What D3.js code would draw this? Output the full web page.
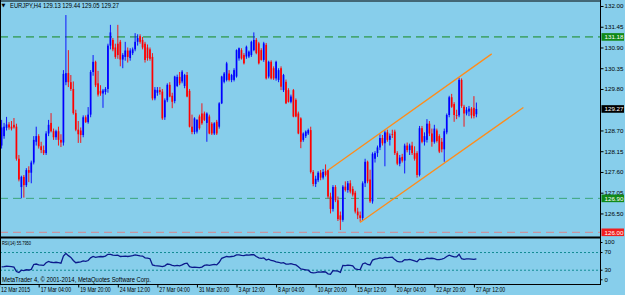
<!DOCTYPE html>
<html><head><meta charset="utf-8">
<script src="https://cdn.jsdelivr.net/npm/d3@7"></script>
<style>
html,body{margin:0;padding:0;background:#87CEEB;}
svg{display:block;}
</style></head><body>
<svg id="c" width="625" height="295"></svg>
<script>
// ---------- DATA ----------
const symbol = "EURJPY,H4";
const open = [
128.30,128.55,128.77,128.86,128.80,128.85,128.80,127.95,127.20,127.47,
127.25,127.65,127.58,127.85,128.40,128.55,128.28,128.18,128.10,128.62,
128.90,128.68,128.52,128.68,128.45,128.38,129.98,130.22,129.98,129.80,
129.16,128.72,128.70,128.58,129.05,128.92,129.12,130.25,130.52,129.95,
129.75,129.68,129.72,129.80,130.95,131.10,130.90,131.00,131.05,130.58,
130.65,130.82,130.62,130.75,130.85,131.05,131.20,131.10,131.00,130.90,
130.85,130.65,129.55,129.70,129.77,129.73,129.05,129.50,129.91,129.62,
129.48,129.88,130.12,130.00,129.88,130.17,129.75,128.80,128.66,128.67,
129.07,129.15,129.15,128.90,129.07,128.88,128.62,128.93,128.80,129.42,
129.99,130.04,130.21,130.04,130.04,130.13,130.61,130.83,130.70,130.66,
130.66,130.70,130.83,131.10,131.01,130.83,130.57,130.97,130.13,130.52,
130.35,130.08,130.04,130.35,129.77,129.99,129.77,129.46,129.77,129.51,
129.15,129.02,128.45,128.55,128.62,128.71,127.60,127.28,127.38,127.58,
127.45,127.62,127.65,126.95,126.62,127.20,126.85,126.45,126.33,127.21,
127.12,127.30,127.15,127.05,126.55,126.45,126.38,127.30,127.87,127.40,
126.82,127.95,128.10,128.25,128.50,128.36,128.65,128.45,128.60,128.67,
128.10,127.82,128.00,127.90,128.30,128.18,128.30,128.10,128.10,127.52,
128.76,128.40,128.45,128.88,128.62,128.40,128.70,128.55,128.40,128.20,
128.65,129.11,129.58,129.40,129.11,129.10,130.04,129.33,129.15,129.20,
129.28,129.30,129.13];
const high = [
128.98,128.90,129.06,128.92,128.95,129.03,128.88,128.05,127.50,127.52,
127.70,127.75,127.90,128.55,128.80,128.60,128.40,128.30,128.68,128.98,
129.16,128.75,128.72,128.80,128.60,130.30,131.76,130.83,130.17,130.00,
129.25,128.95,128.78,129.10,129.10,129.32,130.30,130.70,130.55,130.28,
129.90,129.80,129.85,131.00,131.50,131.15,131.00,131.50,131.10,130.75,
131.05,130.90,130.88,130.90,131.28,131.25,131.25,131.18,131.05,130.98,
130.90,130.75,129.85,129.85,129.85,129.80,129.55,129.95,129.98,129.70,
130.15,130.18,130.25,130.30,130.20,130.25,129.80,129.12,129.05,129.00,
129.12,129.42,129.20,129.18,129.12,128.92,128.92,128.98,129.45,130.15,
130.25,130.52,130.30,130.20,130.35,130.85,130.90,130.88,130.75,130.95,
130.82,131.08,131.30,131.15,131.05,130.88,131.05,131.02,130.55,130.56,
130.40,130.55,130.35,130.40,130.20,130.05,129.82,129.65,129.80,129.55,
129.20,129.05,128.65,128.70,128.75,128.80,127.65,127.50,127.62,127.65,
127.68,127.80,127.66,127.05,127.25,127.25,126.95,126.55,127.25,127.35,
127.36,127.38,127.22,127.10,126.65,126.55,127.35,127.95,127.90,127.66,
128.12,128.15,128.30,128.60,128.58,128.70,128.72,128.62,128.72,128.72,
128.15,128.05,128.08,128.35,128.38,128.35,128.40,128.28,128.15,128.82,
128.82,128.65,129.00,128.95,128.75,128.85,128.75,128.60,128.50,128.75,
129.15,129.62,129.67,129.45,129.25,130.10,130.08,129.38,129.32,129.35,
129.32,129.61,129.44];
const low = [
128.22,128.48,128.70,128.72,128.70,128.75,127.90,127.35,126.90,126.92,
127.20,127.33,127.30,127.80,128.30,128.22,128.10,128.05,128.05,128.55,
128.65,128.45,128.45,128.30,128.26,128.30,129.90,129.85,129.75,129.12,
128.68,128.37,128.37,128.52,128.90,128.88,129.05,130.15,129.85,129.60,
129.62,129.30,129.65,129.70,130.85,130.80,130.60,130.60,130.40,130.35,
130.55,130.50,130.55,130.70,130.80,130.95,131.00,130.85,130.50,130.55,
130.55,129.50,129.50,129.62,129.65,128.98,128.98,129.45,129.58,129.29,
129.42,129.85,129.90,129.95,129.82,129.58,128.78,128.60,128.60,128.62,
128.72,128.85,128.95,128.40,128.60,128.58,128.58,128.58,128.75,129.40,
129.95,130.00,130.00,129.98,130.00,130.10,130.55,130.58,130.45,130.60,
130.62,130.65,130.80,130.72,130.45,130.55,130.52,130.05,130.08,130.05,
130.04,130.02,129.98,129.77,129.72,129.40,129.44,129.42,129.05,129.05,
128.60,128.23,128.40,128.50,128.58,127.56,127.22,127.20,127.33,127.38,
127.40,127.48,126.90,126.50,126.55,126.80,126.30,126.06,126.28,127.08,
127.05,127.03,126.95,126.50,126.35,126.28,126.32,127.20,127.30,126.78,
126.76,127.85,128.00,128.18,128.30,127.75,128.40,128.30,128.50,128.05,
127.78,127.75,127.85,127.56,128.12,128.05,128.05,127.90,127.45,127.48,
128.36,128.30,128.38,128.55,128.27,128.35,128.38,128.10,128.12,127.87,
128.60,129.05,129.30,128.93,129.00,129.05,129.30,128.80,129.10,129.08,
129.02,129.02,129.05];
const close = [
128.78,128.80,128.86,128.78,128.75,128.78,127.95,127.40,127.47,127.25,
127.65,127.58,127.85,128.45,128.55,128.28,128.18,128.10,128.62,128.85,
128.68,128.52,128.68,128.45,128.38,130.20,130.22,129.98,129.80,129.16,
128.72,128.60,128.58,129.05,128.92,129.12,130.25,130.52,129.90,129.65,
129.68,129.76,129.80,130.95,131.30,130.85,130.65,130.70,130.58,130.70,
130.82,130.65,130.82,130.85,131.05,131.15,131.05,130.90,130.57,130.62,
130.60,129.55,129.78,129.77,129.72,129.02,129.50,129.91,129.60,129.46,
130.13,130.12,129.95,130.26,130.17,129.60,128.80,128.66,129.02,128.98,
128.76,128.89,128.98,129.15,128.62,128.62,128.89,128.62,129.42,130.13,
130.21,130.48,130.04,130.17,130.30,130.83,130.88,130.61,130.48,130.92,
130.79,131.05,131.10,130.75,130.48,130.57,131.01,130.08,130.52,130.08,
130.08,130.52,130.30,129.86,130.17,129.42,129.46,129.60,129.07,129.07,
128.62,128.40,128.62,128.67,128.71,127.60,127.28,127.42,127.58,127.45,
127.60,127.52,126.95,126.62,127.20,126.85,126.35,126.33,127.21,127.12,
127.30,127.08,127.00,126.55,126.45,126.38,127.30,127.87,127.35,126.82,
128.08,128.10,128.25,128.50,128.36,128.65,128.45,128.56,128.58,128.10,
127.82,127.98,127.90,128.30,128.18,128.30,128.10,127.95,127.52,128.76,
128.40,128.55,128.88,128.62,128.40,128.75,128.42,128.14,128.20,128.68,
129.11,129.58,129.33,129.11,129.10,130.04,129.35,129.15,129.25,129.28,
129.10,129.08,129.27];
const rsi = [
37.5,38,39,38.5,38,37,27,25,30,29,
31,30.5,32,43,44,42,41.5,41,47,50,
48,47,48,47,46,62,68,63,59,52,
47,48,49,51,50,52,58,61,59,60,
61,60.5,62,66,66,64,63.5,64,61,61.5,
62,61,62,63,64.5,63.5,62.5,62,58,57.5,
56,42,40.5,40,39.5,38,40,44,43,41,
40,41,40,42,45,46,38,36.5,37,36.5,
36,37,41,42,41,42,43,42,48,57,
59,61,60,61,62,64.5,64.5,63.5,63,64.5,
64,65,65,61,58,57,58,53,55,52,
51,49,48,46,47,44,44,45,43,42,
38,33,32,31,30,25,24,24.5,26,25.5,
26.5,26,22,21,29,28.5,28,25,41,40.5,
41.5,41,40,33,32,31.5,44,46.5,43,42,
53,55,56,58,57,59,58.5,59,59.5,54,
50,49,49.5,54,53.5,54.5,53,51,49,55,
54,54.5,57,56.5,57,56,54,54,55,57,
61,64,62,60,60,66,56,54.5,55.5,55.5,
55,54.5,55.795];
const timeTickIndex = [0,16,32,48,64,80,96,112,128,144,160,176,192];
const timeTickLabels = ["12 Mar 2015","17 Mar 04:00","19 Mar 20:00","24 Mar 12:00","27 Mar 04:00",
  "31 Mar 20:00","3 Apr 12:00","8 Apr 04:00","10 Apr 20:00","15 Apr 12:00","20 Apr 04:00",
  "22 Apr 20:00","27 Apr 12:00"];
const priceTicks = [132.00,131.45,130.90,130.35,129.80,128.70,128.15,127.60,127.05,126.50];
const levelPrices = [131.18,126.90,126.00];
const lastPrice = 129.27;
const rsiLevels = [70,30];
const rsiTicks = [100,70,30,0];
const channelUpperIdx = [132.1,198.2], channelUpperPrice = [127.65,130.73];
const channelLowerIdx = [144.9,211.0], channelLowerPrice = [126.26,129.31];

// ---------- DRAW ----------
const svg = d3.select("#c");
const FONT = "'Liberation Sans', Arial, sans-serif";
const axisX = 600.5;
const x = d3.scaleLinear().domain([0,192]).range([1.6,476.4]);
const y = d3.scaleLinear().domain([126,132]).range([232.3,6]);
const yr = d3.scaleLinear().domain([0,100]).range([283.5,239.25]);

function squeeze(sel,k){ sel.each(function(){ const L=this.getComputedTextLength(); d3.select(this).attr("textLength",L*k).attr("lengthAdjust","spacingAndGlyphs"); }); }
function fitW(sel,w){ sel.attr("textLength",w).attr("lengthAdjust","spacingAndGlyphs"); }

svg.append("rect").attr("width",625).attr("height",295).attr("fill","#87CEEB");

const defs = svg.append("defs");
defs.append("clipPath").attr("id","main").append("rect").attr("x",1).attr("y",1.5).attr("width",599).attr("height",235);
defs.append("clipPath").attr("id","sub").append("rect").attr("x",1).attr("y",239).attr("width",599).attr("height",45);

const gm = svg.append("g").attr("clip-path","url(#main)");
// level lines
const levelColors = ["#17891f","#3aa57a","#d9868c"];
levelPrices.forEach((p,k)=>{
  gm.append("line").attr("x1",0).attr("x2",600).attr("y1",y(p)).attr("y2",y(p))
    .attr("stroke",levelColors[k]).attr("stroke-width",1).attr("stroke-dasharray","8,5");
});
// candles
const idx = d3.range(close.length);
const cg = gm.append("g");
cg.selectAll("line.w").data(idx).join("line").attr("class","w")
  .attr("x1",i=>x(i)).attr("x2",i=>x(i)).attr("y1",i=>y(high[i])).attr("y2",i=>y(low[i]))
  .attr("stroke",i=>close[i]>=open[i]?"#0000ff":"#ff0000").attr("stroke-width",0.9);
cg.selectAll("rect.b").data(idx).join("rect").attr("class","b")
  .attr("x",i=>x(i)-0.85).attr("width",1.7)
  .attr("y",i=>y(Math.max(open[i],close[i])))
  .attr("height",i=>Math.max(0.8,Math.abs(y(open[i])-y(close[i]))))
  .attr("fill",i=>close[i]>=open[i]?"#0000ff":"#ff0000");
// channel
const cl = d3.line().x(d=>x(d[0])).y(d=>y(d[1]));
gm.append("path").attr("d",cl(d3.zip(channelUpperIdx,channelUpperPrice))).attr("stroke","#ff8c1a").attr("stroke-width",1.3).attr("fill","none");
gm.append("path").attr("d",cl(d3.zip(channelLowerIdx,channelLowerPrice))).attr("stroke","#ff8c1a").attr("stroke-width",1.3).attr("fill","none");

// RSI panel
const gs = svg.append("g").attr("clip-path","url(#sub)");
rsiLevels.forEach(v=>{
  gs.append("line").attr("x1",0).attr("x2",600).attr("y1",yr(v)).attr("y2",yr(v))
    .attr("stroke","#138c94").attr("stroke-width",1).attr("stroke-dasharray","2,2");
});
gs.append("path").datum(rsi).attr("d",d3.line().x((d,i)=>x(i)).y(d=>yr(d)))
  .attr("fill","none").attr("stroke","#0c1a8c").attr("stroke-width",1.3);

// frames
const fr = svg.append("g").attr("stroke","#000").attr("fill","none");
fr.append("line").attr("x1",0).attr("x2",axisX).attr("y1",1).attr("y2",1).attr("stroke-width",1);
fr.append("line").attr("x1",0.5).attr("x2",0.5).attr("y1",0).attr("y2",284.5);
fr.append("line").attr("x1",0).attr("x2",axisX).attr("y1",237.5).attr("y2",237.5).attr("stroke-width",2);
fr.append("line").attr("x1",0).attr("x2",axisX).attr("y1",284.5).attr("y2",284.5);
fr.append("line").attr("x1",axisX).attr("x2",axisX).attr("y1",0).attr("y2",285);

// right price axis
const gR = svg.append("g").attr("transform",`translate(${axisX},0)`)
  .call(d3.axisRight(y).tickValues(priceTicks).tickSize(3).tickPadding(1).tickFormat(d3.format(".2f")));
gR.select(".domain").remove();
gR.attr("font-family",FONT).attr("font-size",6.2).attr("color","#000");

// level boxes
const boxes = levelPrices.map((p,k)=>({p, fill: k==2?"#f01e1e":"#118a18"}));
boxes.push({p:lastPrice, fill:"#000"});
boxes.forEach(b=>{
  svg.append("rect").attr("x",601.5).attr("y",y(b.p)-3.8).attr("width",22.5).attr("height",7.6).attr("fill",b.fill);
  svg.append("text").attr("x",604.5).attr("y",y(b.p)+2.3).attr("fill","#fff")
    .attr("font-family",FONT).attr("font-size",6.2).text(b.p.toFixed(2));
});

// RSI axis
const gRs = svg.append("g").attr("transform",`translate(${axisX},0)`)
  .call(d3.axisRight(yr).tickValues(rsiTicks).tickSize(2).tickPadding(2).tickFormat(d3.format("d")));
gRs.select(".domain").remove();
gRs.attr("font-family",FONT).attr("font-size",6).attr("color","#000");
gRs.selectAll(".tick").attr("transform",d=>`translate(0,${Math.max(242.5,Math.min(279.8,yr(d)))})`);

// time axis
const gB = svg.append("g").attr("transform","translate(0,284.5)")
  .call(d3.axisBottom(x).tickValues(timeTickIndex).tickSize(3).tickFormat((d,i)=>timeTickLabels[i]));
gB.select(".domain").remove();
gB.attr("font-family",FONT).attr("font-size",6.8).attr("color","#000");
gB.selectAll(".tick line").attr("transform","translate(-2.5,0)");
gB.selectAll(".tick text").attr("text-anchor","start").attr("x",-1).attr("dy",0).attr("y",7.3);
squeeze(gB.selectAll(".tick text"),0.76);

// title
svg.append("text").attr("x",1.5).attr("y",7.2).attr("font-family","DejaVu Sans").attr("font-size",5).attr("fill","#000").text("▼");
const n = close.length-1;
const title = svg.append("text").attr("x",10).attr("y",7.6).attr("font-family",FONT).attr("font-size",6.6).attr("fill","#000")
  .text(`${symbol} ${open[n].toFixed(2)} ${high[n].toFixed(2)} ${low[n].toFixed(2)} ${close[n].toFixed(2)}`);
fitW(title,109);

// RSI label
const rl = svg.append("text").attr("x",2).attr("y",245.4).attr("font-family",FONT).attr("font-size",5.8).attr("fill","#000")
  .text(`RSI(14) ${rsi[n].toFixed(4)}`);
fitW(rl,29);
const ml = svg.append("text").attr("x",2).attr("y",282).attr("font-family",FONT).attr("font-size",6.6).attr("fill","#000")
  .text("MetaTrader 4, © 2001-2014, MetaQuotes Software Corp.");
fitW(ml,149);
</script>
</body></html>
